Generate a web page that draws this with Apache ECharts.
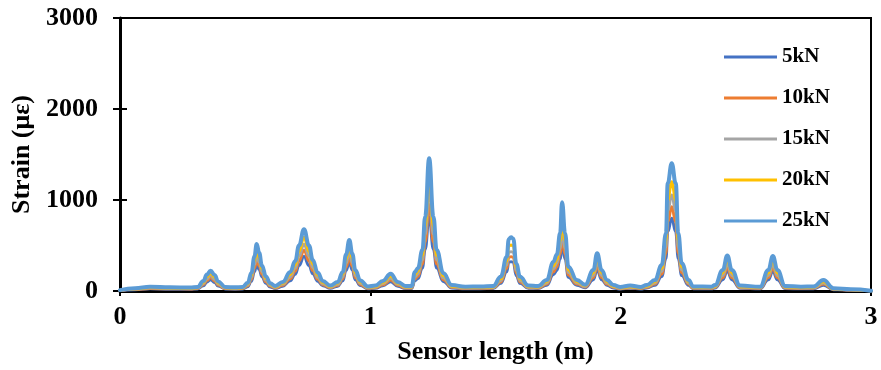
<!DOCTYPE html>
<html>
<head>
<meta charset="utf-8">
<script src="https://cdn.jsdelivr.net/npm/echarts@6/dist/echarts.min.js"></script>
<style>html,body{margin:0;padding:0;background:#fff;}#c{width:881px;height:370px;}</style>
</head>
<body>
<div id="c"></div>
<script>
const seriesNames = ['5kN', '10kN', '15kN', '20kN', '25kN'];
const xTicks = [0, 1, 2, 3];
const yTicks = [0, 1000, 2000, 3000];
const positions = [0, 0.06, 0.12, 0.2, 0.28, 0.31, 0.333, 0.347, 0.362, 0.378, 0.392, 0.42, 0.46, 0.49, 0.51, 0.525, 0.537, 0.546, 0.556, 0.567, 0.583, 0.60, 0.62, 0.65, 0.68, 0.70, 0.715, 0.735, 0.755, 0.77, 0.79, 0.81, 0.84, 0.87, 0.89, 0.903, 0.916, 0.928, 0.94, 0.96, 0.99, 1.02, 1.05, 1.081, 1.11, 1.14, 1.165, 1.178, 1.19, 1.208, 1.219, 1.235, 1.252, 1.265, 1.292, 1.325, 1.38, 1.44, 1.491, 1.521, 1.545, 1.553, 1.562, 1.571, 1.583, 1.598, 1.631, 1.67, 1.705, 1.731, 1.745, 1.758, 1.766, 1.778, 1.791, 1.825, 1.858, 1.891, 1.906, 1.924, 1.945, 1.971, 1.998, 2.038, 2.08, 2.104, 2.137, 2.164, 2.181, 2.188, 2.204, 2.22, 2.23, 2.244, 2.271, 2.29, 2.363, 2.377, 2.408, 2.426, 2.444, 2.477, 2.557, 2.59, 2.608, 2.626, 2.657, 2.72, 2.77, 2.81, 2.85, 2.92, 3.0];
const strain25 = [10, 30, 47, 40, 38, 45, 110, 180, 223, 175, 105, 45, 40, 45, 90, 200, 380, 516, 420, 280, 160, 85, 55, 100, 210, 330, 500, 678, 500, 340, 200, 110, 60, 100, 210, 400, 560, 410, 230, 115, 50, 60, 110, 190, 100, 55, 55, 210, 250, 450, 817, 1458, 817, 450, 195, 66, 47, 50, 55, 157, 377, 570, 590, 575, 300, 157, 60, 55, 121, 320, 400, 634, 975, 634, 267, 121, 70, 231, 414, 231, 120, 66, 44, 60, 45, 66, 121, 285, 634, 1183, 1403, 1183, 634, 304, 121, 50, 47, 66, 231, 390, 231, 60, 47, 231, 385, 231, 55, 47, 50, 121, 30, 19, 3];
const strain20 = [8, 24, 38, 32, 30, 36, 94, 155, 194, 150, 89, 36, 32, 36, 77, 172, 331, 449, 365, 244, 136, 72, 44, 85, 181, 287, 435, 590, 435, 296, 172, 94, 48, 85, 181, 348, 487, 357, 198, 98, 40, 48, 94, 163, 85, 44, 44, 181, 216, 392, 711, 1270, 711, 392, 168, 53, 38, 40, 44, 134, 328, 495, 505, 495, 261, 134, 48, 44, 103, 278, 348, 550, 817, 550, 232, 103, 57, 199, 360, 199, 102, 53, 35, 48, 36, 53, 103, 248, 552, 1000, 1200, 1000, 552, 264, 103, 40, 38, 53, 199, 339, 199, 48, 38, 199, 335, 199, 44, 38, 40, 103, 24, 15, 2];
const strain15 = [7, 21, 33, 28, 27, 32, 80, 133, 170, 129, 77, 32, 28, 32, 66, 148, 289, 392, 319, 213, 117, 62, 39, 73, 155, 251, 380, 515, 380, 258, 148, 80, 42, 73, 155, 304, 426, 312, 170, 84, 35, 42, 80, 139, 73, 39, 39, 155, 186, 342, 621, 1110, 621, 342, 144, 46, 33, 35, 39, 115, 287, 425, 432, 425, 228, 115, 42, 39, 88, 243, 304, 470, 690, 470, 203, 88, 50, 171, 315, 171, 88, 46, 31, 42, 32, 46, 88, 217, 482, 880, 1055, 880, 482, 231, 88, 35, 33, 46, 171, 296, 171, 42, 33, 171, 293, 171, 39, 33, 35, 88, 21, 13, 2];
const strain10 = [6, 18, 28, 24, 23, 27, 69, 115, 147, 111, 66, 27, 24, 27, 57, 128, 251, 341, 277, 185, 101, 54, 33, 63, 134, 218, 330, 447, 330, 224, 128, 69, 36, 63, 134, 264, 370, 271, 147, 72, 30, 36, 69, 120, 63, 33, 33, 134, 161, 297, 539, 950, 539, 297, 124, 40, 28, 30, 33, 99, 249, 370, 377, 370, 198, 99, 36, 33, 76, 211, 264, 410, 615, 410, 176, 76, 43, 148, 273, 148, 76, 40, 26, 36, 27, 40, 76, 188, 418, 760, 925, 760, 418, 201, 76, 30, 28, 40, 148, 257, 148, 36, 28, 148, 254, 148, 33, 28, 30, 76, 18, 11, 2];
const strain5 = [5, 15, 24, 20, 19, 23, 58, 97, 125, 94, 56, 23, 20, 23, 48, 108, 213, 289, 235, 157, 85, 45, 28, 53, 113, 185, 280, 380, 280, 190, 108, 58, 30, 53, 113, 224, 314, 230, 124, 61, 25, 30, 58, 101, 53, 28, 28, 113, 136, 252, 458, 815, 458, 252, 105, 33, 24, 25, 28, 84, 211, 315, 322, 315, 168, 84, 30, 28, 64, 179, 224, 350, 524, 350, 150, 64, 36, 125, 232, 125, 64, 33, 22, 30, 23, 33, 64, 160, 355, 650, 800, 650, 355, 170, 64, 25, 24, 33, 125, 218, 125, 30, 24, 125, 216, 125, 28, 24, 25, 64, 15, 10, 2];

const colors = ['#4472C4', '#ED7D31', '#A5A5A5', '#FFC000', '#5B9BD5'];
const values = [strain5, strain10, strain15, strain20, strain25];
const font = 'Liberation Serif';

const chart = echarts.init(document.getElementById('c'));
chart.setOption({
  animation: false,
  backgroundColor: '#fff',
  grid: { left: 120, right: 10, top: 18, bottom: 79, show: true, borderColor: '#000', borderWidth: 2, backgroundColor: 'transparent' },
  legend: {
    orient: 'vertical', left: 719, top: 41,
    itemWidth: 53, itemHeight: 3, itemGap: 19, icon: 'rect',
    textStyle: { fontFamily: font, fontWeight: 'bold', fontSize: 21, color: '#000', lineHeight: 22 },
    data: seriesNames
  },
  xAxis: [{
    type: 'value', min: xTicks[0], max: xTicks[xTicks.length - 1], interval: 1,
    name: 'Sensor length (m)', nameLocation: 'middle', nameGap: 48,
    nameTextStyle: { fontFamily: font, fontWeight: 'bold', fontSize: 26, color: '#000' },
    axisLine: { lineStyle: { color: '#000', width: 3 } },
    axisTick: { show: true, length: 5, lineStyle: { color: '#000', width: 2 } },
    axisLabel: { fontFamily: font, fontWeight: 'bold', fontSize: 26, color: '#000', margin: 13, formatter: v => String(v) },
    splitLine: { show: false }
  }, {
    type: 'value', position: 'bottom', min: xTicks[0], max: xTicks[xTicks.length - 1], interval: 1,
    axisLine: { show: false },
    axisTick: { show: true, inside: true, length: 5, lineStyle: { color: '#000', width: 2 } },
    axisLabel: { show: false }, splitLine: { show: false }
  }],
  yAxis: [{
    type: 'value', min: yTicks[0], max: yTicks[yTicks.length - 1], interval: 1000,
    name: 'Strain (με)', nameLocation: 'middle', nameGap: 84,
    nameTextStyle: { fontFamily: font, fontWeight: 'bold', fontSize: 26, color: '#000' },
    axisLine: { show: true, lineStyle: { color: '#000', width: 3 } },
    axisTick: { show: true, length: 7, lineStyle: { color: '#000', width: 2 } },
    axisLabel: { fontFamily: font, fontWeight: 'bold', fontSize: 26, color: '#000', margin: 22, formatter: v => String(v) },
    splitLine: { show: false }
  }, {
    type: 'value', position: 'left', min: yTicks[0], max: yTicks[yTicks.length - 1], interval: 1000,
    axisLine: { show: false },
    axisTick: { show: true, inside: true, length: 7, lineStyle: { color: '#000', width: 2 } },
    axisLabel: { show: false }, splitLine: { show: false }
  }],
  series: seriesNames.map((n, i) => ({
    name: n, type: 'line', xAxisIndex: 0, yAxisIndex: 0,
    data: positions.map((x, j) => [x, values[i][j]]),
    showSymbol: false, symbol: 'none',
    smooth: 0.45, smoothMonotone: 'x',
    color: colors[i],
    lineStyle: { color: colors[i], width: i === 4 ? 4 : 3, join: 'round', cap: 'round' }
  }))
});
</script>
</body>
</html>
